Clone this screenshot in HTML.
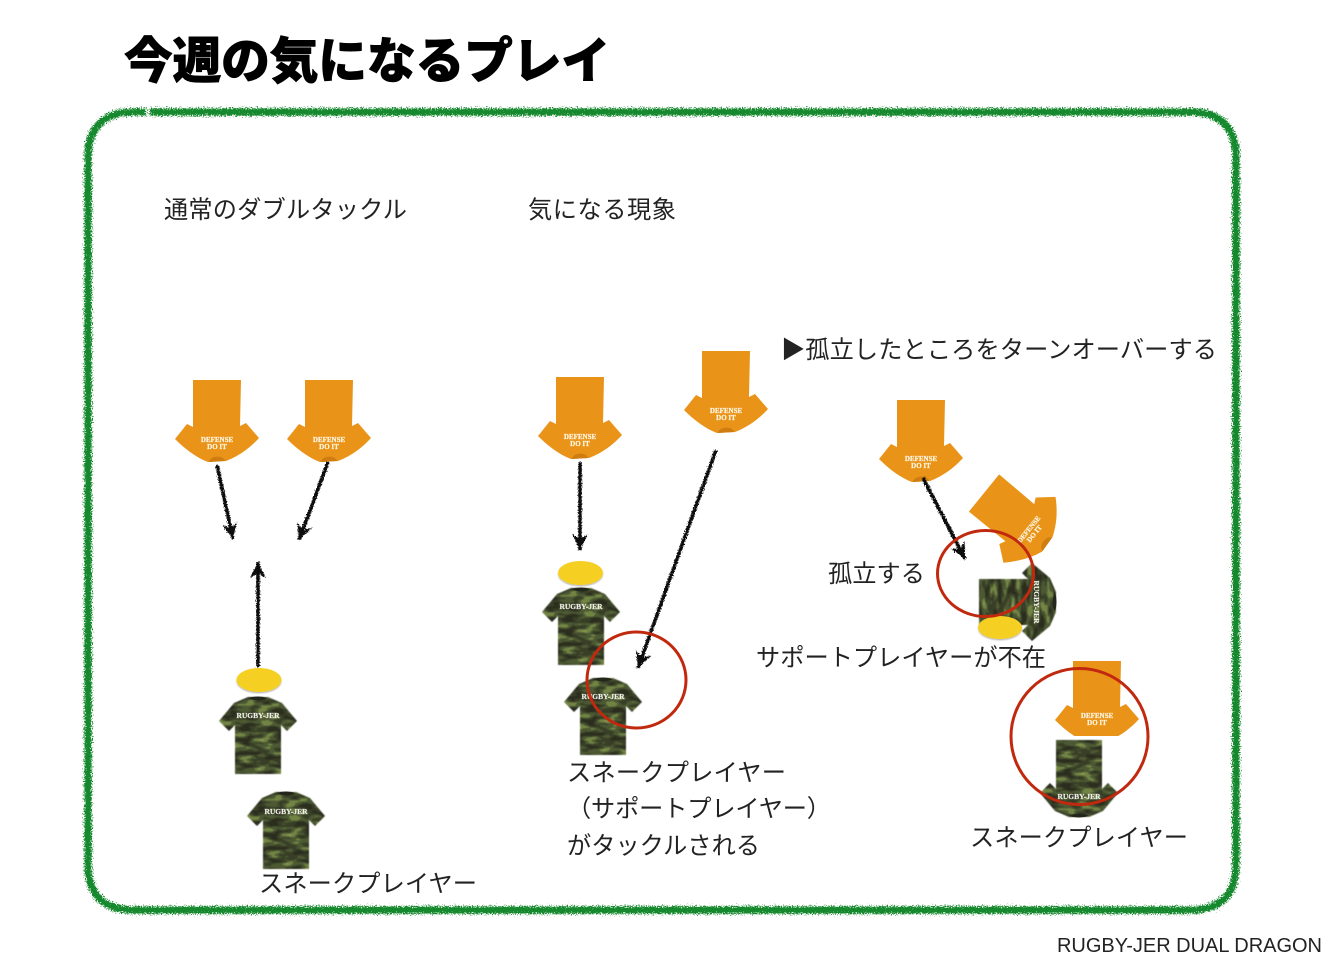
<!DOCTYPE html>
<html lang="ja">
<head>
<meta charset="utf-8">
<title>今週の気になるプレイ</title>
<style>
html,body{margin:0;padding:0;background:#fff;width:1328px;height:960px;overflow:hidden}
svg{display:block}
.l{font-family:"Liberation Sans","Noto Sans CJK JP",sans-serif;font-size:24.2px;fill:#222;font-weight:400}
.o{font-family:"Liberation Serif",serif;font-weight:700;font-size:7px;fill:#fff6e0;text-anchor:middle;stroke:#fff6e0;stroke-width:.25}
.c{font-family:"Liberation Serif",serif;font-weight:700;font-size:7.5px;fill:#f0f0e8;text-anchor:middle;stroke:#f0f0e8;stroke-width:.2}
</style>
</head>
<body>
<svg xmlns="http://www.w3.org/2000/svg" width="1328" height="960" viewBox="0 0 1328 960">
<defs>
  <filter id="rough" filterUnits="userSpaceOnUse" x="0" y="0" width="1328" height="960">
    <feTurbulence type="fractalNoise" baseFrequency="0.8" numOctaves="2" seed="4" result="n"/>
    <feDisplacementMap in="SourceGraphic" in2="n" scale="9" xChannelSelector="R" yChannelSelector="G"/>
  </filter>
  <filter id="rough2" filterUnits="userSpaceOnUse" x="0" y="0" width="1328" height="960">
    <feTurbulence type="fractalNoise" baseFrequency="0.9" numOctaves="1" seed="9" result="n"/>
    <feDisplacementMap in="SourceGraphic" in2="n" scale="4.5" xChannelSelector="R" yChannelSelector="G"/>
  </filter>
  <filter id="camoF" x="-5%" y="-5%" width="110%" height="110%" color-interpolation-filters="sRGB">
    <feTurbulence type="fractalNoise" baseFrequency="0.06 0.17" numOctaves="2" seed="7"/>
    <feColorMatrix type="matrix" values="1 0 0 0 0  1 0 0 0 0  1 0 0 0 0  0 0 0 0 1"/>
    <feComponentTransfer result="c">
      <feFuncR type="discrete" tableValues=".17 .17 .17 .22 .3 .45 .58 .6"/>
      <feFuncG type="discrete" tableValues=".18 .18 .18 .25 .35 .52 .62 .64"/>
      <feFuncB type="discrete" tableValues=".12 .12 .12 .15 .2 .27 .36 .38"/>
    </feComponentTransfer>
    <feComposite in="c" in2="SourceAlpha" operator="in"/>
    <feGaussianBlur stdDeviation="0.5"/>
  </filter>
  <filter id="shadow" x="-20%" y="-30%" width="140%" height="170%">
    <feDropShadow dx="0" dy="1.2" stdDeviation="0.9" flood-color="#000" flood-opacity="0.3"/>
  </filter>
  <marker id="head" markerUnits="userSpaceOnUse" markerWidth="26" markerHeight="26" refX="21" refY="13" orient="auto">
    <path d="M5,5 L21,13 L5,21 L10,13 Z" fill="#111"/>
  </marker>
  <g id="orange">
    <path d="M-24,0 L24,0 L23,46 L29,43 L42,58 C33,68 22,76 9,81 L-9,82 C-22,77 -33,68 -42,59 L-30,44 L-24,47 Z" fill="#ea9319"/>
    <path d="M-8,82 C-7,75 7,75 8,81 Z" fill="#cf7c10"/>
  </g>
  <g id="camoShirt">
    <path d="M-10,0 L10,0 L24,6 L39,24 L29,34 L23,28 L23,77 L-23,77 L-23,28 L-29,34 L-39,24 L-24,6 Z" fill="#000" filter="url(#camoF)"/>
    <path d="M-10,1 Q0,6 10,1 Q0,-2 -10,1 Z" fill="#23261a"/>
  </g>
  <clipPath id="orangeCut"><rect x="-60" y="-5" width="120" height="80"/></clipPath>
</defs>

<rect width="1328" height="960" fill="#fff"/>

<text x="124" y="78" font-family="'Liberation Sans','Noto Sans CJK JP',sans-serif" font-size="48.6" font-weight="900" fill="#000" stroke="#000" stroke-width="0.9" stroke-linejoin="round" textLength="486" lengthAdjust="spacing">今週の気になるプレイ</text>

<g filter="url(#rough)">
  <path d="M150,112 H1190 Q1236,112 1236,158 V864 Q1236,910 1190,910 H134 Q88,910 88,864 V158 Q88,112 134,112 H146" fill="none" stroke="#13892e" stroke-width="7.5"/>
</g>

<text class="l" x="164" y="218" textLength="243">通常のダブルタックル</text>
<text class="l" x="528" y="218" textLength="148">気になる現象</text>
<text class="l" x="781" y="358" textLength="436">▶孤立したところをターンオーバーする</text>

<!-- left group -->
<use href="#orange" x="217" y="380"/>
<text class="o" x="217" y="442">DEFENSE</text><text class="o" x="217" y="449">DO IT</text>
<use href="#orange" x="329" y="380"/>
<text class="o" x="329" y="442">DEFENSE</text><text class="o" x="329" y="449">DO IT</text>
<ellipse cx="259" cy="680" rx="22.5" ry="12" fill="#f5cf24" filter="url(#shadow)"/>
<use href="#camoShirt" x="258" y="697"/>
<text class="c" x="258" y="718">RUGBY-JER</text>
<use href="#camoShirt" x="286" y="792"/>
<text class="c" x="286" y="814">RUGBY-JER</text>

<!-- middle group -->
<use href="#orange" x="580" y="377"/>
<text class="o" x="580" y="439">DEFENSE</text><text class="o" x="580" y="446">DO IT</text>
<use href="#orange" x="726" y="351"/>
<text class="o" x="726" y="413">DEFENSE</text><text class="o" x="726" y="420">DO IT</text>
<ellipse cx="580.5" cy="573" rx="22.5" ry="12" fill="#f5cf24" filter="url(#shadow)"/>
<use href="#camoShirt" x="581" y="588"/>
<text class="c" x="581" y="609">RUGBY-JER</text>
<use href="#camoShirt" x="603" y="678"/>
<text class="c" x="603" y="699">RUGBY-JER</text>

<!-- right group -->
<use href="#orange" x="921" y="400"/>
<text class="o" x="921" y="461">DEFENSE</text><text class="o" x="921" y="468">DO IT</text>
<g transform="translate(984,493) rotate(-51)">
  <use href="#orange"/>
  <text class="o" x="0" y="60">DEFENSE</text><text class="o" x="0" y="67">DO IT</text>
</g>
<g transform="translate(1056,602) rotate(90)">
  <use href="#camoShirt"/>
  <text class="c" x="0" y="22">RUGBY-JER</text>
</g>
<ellipse cx="1000" cy="627.5" rx="22" ry="11.5" fill="#f5cf24" filter="url(#shadow)"/>

<g transform="translate(1097,661)">
  <g clip-path="url(#orangeCut)"><use href="#orange"/></g>
  <text class="o" x="0" y="57">DEFENSE</text><text class="o" x="0" y="64">DO IT</text>
</g>
<g transform="translate(1079,817) scale(1,-1)">
  <use href="#camoShirt"/>
</g>
<text class="c" x="1079" y="799">RUGBY-JER</text>

<!-- arrows -->
<g filter="url(#rough2)" fill="none" stroke="#111" stroke-width="3.6">
  <line x1="217" y1="465" x2="233" y2="539" marker-end="url(#head)"/>
  <line x1="328" y1="462" x2="299" y2="540" marker-end="url(#head)"/>
  <line x1="258" y1="667" x2="258" y2="562" marker-end="url(#head)"/>
  <line x1="580" y1="462" x2="580" y2="550" marker-end="url(#head)"/>
  <line x1="716" y1="450" x2="638" y2="668" marker-end="url(#head)"/>
  <line x1="923" y1="478" x2="965" y2="559" marker-end="url(#head)"/>
</g>

<!-- circles -->
<g fill="none" stroke="#c1290f" stroke-width="3">
  <ellipse cx="636.5" cy="680" rx="49.5" ry="48"/>
  <ellipse cx="985.5" cy="573.5" rx="48" ry="43"/>
  <ellipse cx="1079.5" cy="736.5" rx="68.5" ry="68"/>
</g>

<text class="l" x="828" y="582" textLength="97">孤立する</text>
<text class="l" x="756" y="666" textLength="290">サポートプレイヤーが不在</text>
<text class="l" x="567" y="781" textLength="219">スネークプレイヤー</text>
<text class="l" x="567" y="817" textLength="264">（サポートプレイヤー）</text>
<text class="l" x="567" y="854" textLength="193">がタックルされる</text>
<text class="l" x="970" y="846" textLength="218">スネークプレイヤー</text>
<text class="l" x="259" y="892" textLength="218">スネークプレイヤー</text>

<text x="1057" y="952" font-family="'Liberation Sans',sans-serif" font-size="20" fill="#222" textLength="265">RUGBY-JER DUAL DRAGON</text>
</svg>
</body>
</html>
